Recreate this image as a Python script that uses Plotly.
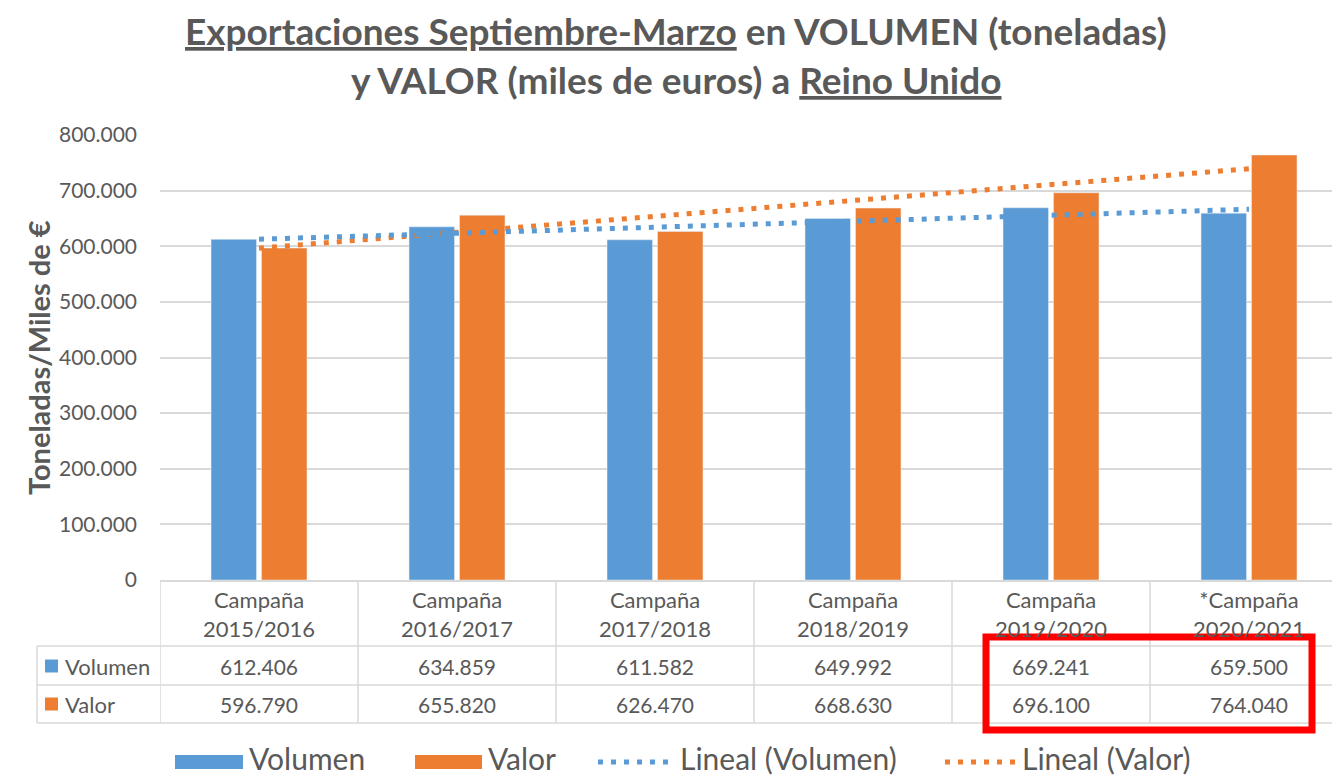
import numpy as np
import plotly.graph_objects as go

# ---------------- data ----------------
categories = ["Campaña<br>2015/2016", "Campaña<br>2016/2017", "Campaña<br>2017/2018",
              "Campaña<br>2018/2019", "Campaña<br>2019/2020", "*Campaña<br>2020/2021"]
volumen = [612406, 634859, 611582, 649992, 669241, 659500]
valor = [596790, 655820, 626470, 668630, 696100, 764040]
y_ticks = [0, 100000, 200000, 300000, 400000, 500000, 600000, 700000, 800000]
series_names = ["Volumen", "Valor"]
trend_names = ["Lineal (Volumen)", "Lineal (Valor)"]

# ---------------- style ----------------
BLUE = "#5b9bd5"
ORANGE = "#ed7d31"
TXT = "#595959"
GRID = "#d9d9d9"
FONT = "Lato"
DOT = "5px,8px"

W, H = 1332, 779
L, R, T, B = 160, 0, 135, 199
PW, PH = W - L - R, H - T - B


def px(xp):
    return (xp - L) / PW


def py(yp):
    return (H - B - yp) / PH


def fmt(v):
    return f"{v:,}".replace(",", ".")


# linear trend (Excel "Lineal")
xi = np.arange(1, len(categories) + 1)
tv = np.polyval(np.polyfit(xi, volumen, 1), xi)
tva = np.polyval(np.polyfit(xi, valor, 1), xi)

fig = go.Figure()
fig.add_trace(go.Bar(x=categories, y=volumen, name=series_names[0], marker_color=BLUE))
fig.add_trace(go.Bar(x=categories, y=valor, name=series_names[1], marker_color=ORANGE))
fig.add_trace(go.Scatter(x=categories, y=tva, mode="lines", name=trend_names[1],
                         line=dict(color=ORANGE, width=5, dash=DOT)))
fig.add_trace(go.Scatter(x=categories, y=tv, mode="lines", name=trend_names[0],
                         line=dict(color=BLUE, width=5, dash=DOT)))

shapes = []
annotations = []

# ---------- data table ----------
tbl_top, row1, row2, row3 = 580, 646, 685, 723
tbl_left = 37
n = len(categories)
for yy in (row1, row2, row3):
    shapes.append(dict(type="line", xref="paper", yref="paper", x0=px(tbl_left), x1=1.0,
                       y0=py(yy), y1=py(yy), line=dict(color=GRID, width=1.5)))
shapes.append(dict(type="line", xref="paper", yref="paper", x0=px(tbl_left), x1=px(tbl_left),
                   y0=py(row1), y1=py(row3), line=dict(color=GRID, width=1.5)))
for i in range(n + 1):
    shapes.append(dict(type="line", xref="x", yref="paper", x0=i - 0.5, x1=i - 0.5,
                       y0=py(tbl_top), y1=py(row3), line=dict(color=GRID, width=1.5)))

NUM_FS = 21
LBL_FS = 22
for i, c in enumerate(categories):
    annotations.append(dict(x=c, xref="x", y=py(614), yref="paper", text=c, showarrow=False,
                            font=dict(size=LBL_FS, color=TXT, family=FONT), align="center",
                            yanchor="middle"))
    annotations.append(dict(x=c, xref="x", y=py(666), yref="paper", text=fmt(volumen[i]),
                            showarrow=False, font=dict(size=NUM_FS, color=TXT, family=FONT),
                            yanchor="middle"))
    annotations.append(dict(x=c, xref="x", y=py(704), yref="paper", text=fmt(valor[i]),
                            showarrow=False, font=dict(size=NUM_FS, color=TXT, family=FONT),
                            yanchor="middle"))

for name, col, yc in ((series_names[0], BLUE, 666), (series_names[1], ORANGE, 704)):
    shapes.append(dict(type="rect", xref="paper", yref="paper", x0=px(45), x1=px(58),
                       y0=py(yc + 6.5), y1=py(yc - 6.5), fillcolor=col, line=dict(width=0)))
    annotations.append(dict(x=px(63), xref="paper", y=py(yc), yref="paper", text=name,
                            showarrow=False, xanchor="left", yanchor="middle",
                            font=dict(size=LBL_FS, color=TXT, family=FONT)))

# red highlight box
shapes.append(dict(type="rect", xref="paper", yref="paper", x0=px(986), x1=px(1312),
                   y0=py(730), y1=py(637), line=dict(color="#ff0000", width=7)))

# ---------- legend (manual) ----------
LEG_FS = 30
LY = 758
RY0, RY1 = 755, 769
shapes.append(dict(type="rect", xref="paper", yref="paper", x0=px(175), x1=px(243),
                   y0=py(RY1), y1=py(RY0), fillcolor=BLUE, line=dict(width=0)))
annotations.append(dict(x=px(247), xref="paper", y=py(LY), yref="paper", text=series_names[0],
                        showarrow=False, xanchor="left", yanchor="middle",
                        font=dict(size=LEG_FS, color=TXT, family=FONT)))
shapes.append(dict(type="rect", xref="paper", yref="paper", x0=px(415), x1=px(482),
                   y0=py(RY1), y1=py(RY0), fillcolor=ORANGE, line=dict(width=0)))
annotations.append(dict(x=px(486), xref="paper", y=py(LY), yref="paper", text=series_names[1],
                        showarrow=False, xanchor="left", yanchor="middle",
                        font=dict(size=LEG_FS, color=TXT, family=FONT)))
shapes.append(dict(type="line", xref="paper", yref="paper", x0=px(598), x1=px(676),
                   y0=py(762), y1=py(762), line=dict(color=BLUE, width=5, dash=DOT)))
annotations.append(dict(x=px(678), xref="paper", y=py(LY), yref="paper", text=trend_names[0],
                        showarrow=False, xanchor="left", yanchor="middle",
                        font=dict(size=LEG_FS, color=TXT, family=FONT)))
shapes.append(dict(type="line", xref="paper", yref="paper", x0=px(945), x1=px(1018),
                   y0=py(762), y1=py(762), line=dict(color=ORANGE, width=5, dash=DOT)))
annotations.append(dict(x=px(1020), xref="paper", y=py(LY), yref="paper", text=trend_names[1],
                        showarrow=False, xanchor="left", yanchor="middle",
                        font=dict(size=LEG_FS, color=TXT, family=FONT)))

# ---------- title ----------
TITLE_FS = 37
annotations.append(dict(x=px(676), xref="paper", y=py(31), yref="paper",
                        text="<b><u>Exportaciones Septiembre-Marzo</u> en VOLUMEN (toneladas)</b>",
                        showarrow=False, yanchor="middle",
                        font=dict(size=TITLE_FS, color=TXT, family=FONT)))
annotations.append(dict(x=px(676), xref="paper", y=py(79), yref="paper",
                        text="<b>y VALOR (miles de euros) a <u>Reino Unido</u></b>",
                        showarrow=False, yanchor="middle",
                        font=dict(size=TITLE_FS, color=TXT, family=FONT)))

# y-axis title
annotations.append(dict(x=px(38), xref="paper", y=py(358), yref="paper",
                        text="<b>Toneladas/Miles de €</b>", textangle=-90, showarrow=False,
                        xanchor="center", yanchor="middle",
                        font=dict(size=29, color=TXT, family=FONT)))

fig.update_layout(
    width=W, height=H, autosize=False,
    margin=dict(l=L, r=R, t=T, b=B, pad=0),
    paper_bgcolor="white", plot_bgcolor="white",
    separators=",.",
    barmode="group", bargap=0.49, bargroupgap=0.1,
    showlegend=False,
    shapes=shapes, annotations=annotations,
    font=dict(family=FONT, color=TXT),
)
fig.update_xaxes(range=[-0.5, n - 0.5 - 16 / 198], showticklabels=False, showgrid=False,
                 zeroline=False, showline=True, linecolor=GRID, linewidth=1.5, ticks="",
                 fixedrange=True)
fig.update_yaxes(range=[0, 800000], tickvals=y_ticks, tickformat=",", showgrid=True,
                 gridcolor=GRID, gridwidth=1.5, zeroline=False, showline=False, ticks="",
                 ticklabelstandoff=22, tickfont=dict(size=21, color=TXT, family=FONT),
                 fixedrange=True)

fig.write_html("out.html", config={"displayModeBar": False},
               post_script="document.body.style.margin='0';document.body.style.padding='0';"
                           "document.body.style.overflow='hidden';")
